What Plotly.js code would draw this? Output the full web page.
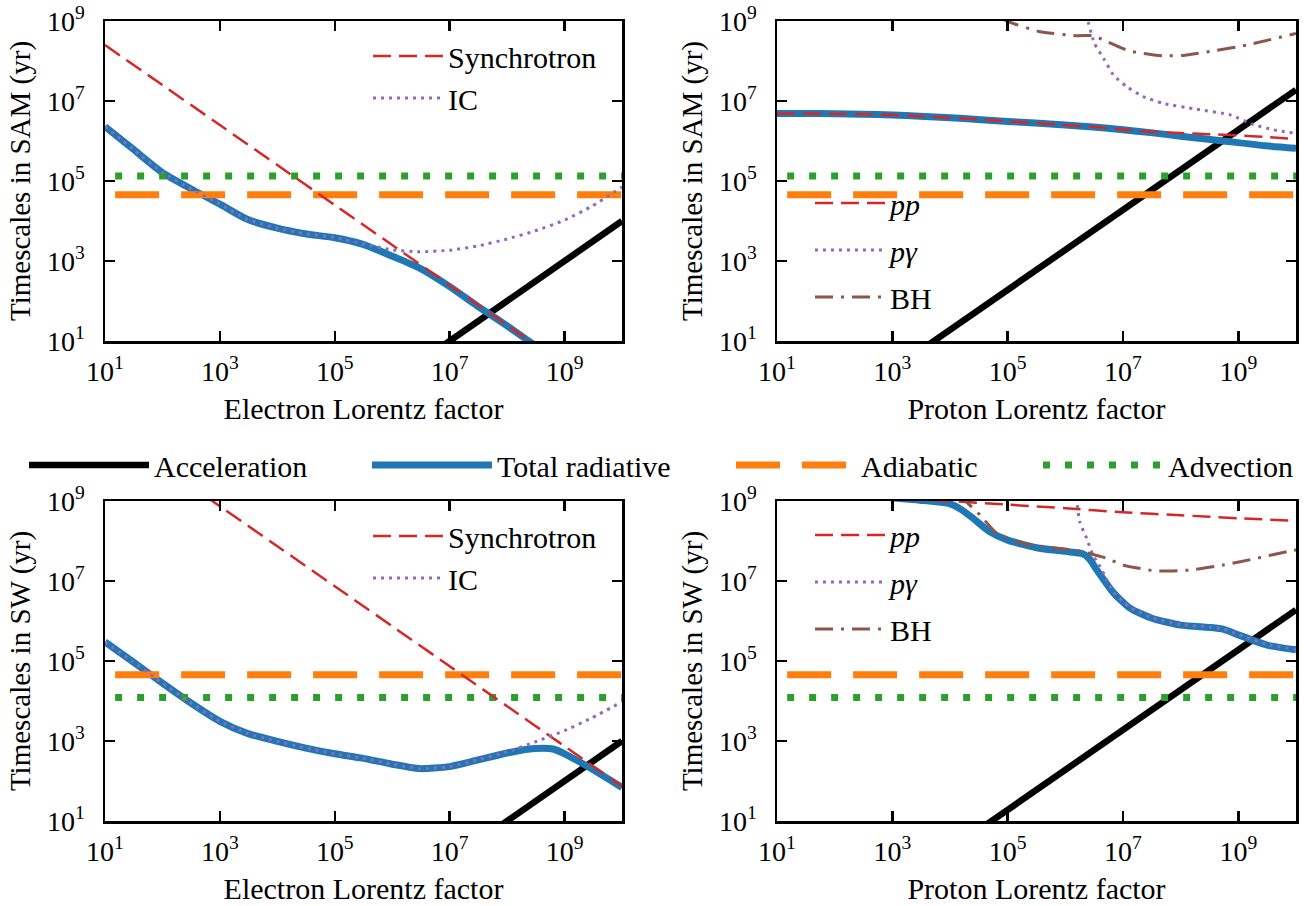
<!DOCTYPE html>
<html>
<head>
<meta charset="utf-8">
<script src="https://cdn.plot.ly/plotly-3.0.1.min.js"></script>
<style>html,body{margin:0;padding:0;background:#fff;}#chart{width:1313px;height:906px;}</style>
</head>
<body>
<div id="chart"></div>
<script>
// ---------- tick labels ----------
var tickVals = [1e1, 1e3, 1e5, 1e7, 1e9];
var tickText = ['10<sup>1</sup>', '10<sup>3</sup>', '10<sup>5</sup>', '10<sup>7</sup>', '10<sup>9</sup>'];

// ---------- shared horizontal levels (yr) ----------
var levelX = [15, 1e10];
var adiabaticSAM = [4.5e4, 4.5e4];
var advectionSAM = [1.33e5, 1.33e5];
var adiabaticSW = [4.5e4, 4.5e4];
var advectionSW = [1.23e4, 1.23e4];

// ---------- Electron, SAM (top left) ----------
var eSamAccX = [1e6, 1e7, 1e8, 1e9, 1e10];
var eSamAcc  = [1, 10, 100, 1e3, 1e4];
var eSamTotX = [1e1, 3e1, 1e2, 3e2, 1e3, 3e3, 1e4, 3e4, 1e5, 3e5, 1e6, 3e6, 1e7, 3e7, 1e8, 3e8];
var eSamTot  = [2.29e6, 6.46e5, 1.62e5, 6.6e4, 2.63e4, 1.1e4, 6.6e3, 4.79e3, 3.8e3, 2.63e3, 1.32e3, 661, 229, 75.9, 24, 7.9];
var eSamSynX = [1e1, 1e2, 1e3, 1e4, 1e5, 1e6, 1e7, 1e8, 1e9, 1e10];
var eSamSyn  = [2.5e8, 2.5e7, 2.5e6, 2.5e5, 2.5e4, 2.5e3, 2.5e2, 2.5e1, 2.5, 0.25];
var eSamICX  = [1e1, 3e1, 1e2, 3e2, 1e3, 3e3, 1e4, 3e4, 1e5, 3e5, 1e6, 3e6, 1e7, 3e7, 1e8, 3e8, 1e9, 3e9, 1e10];
var eSamIC   = [2.29e6, 6.5e5, 1.63e5, 6.6e4, 2.65e4, 1.1e4, 6.6e3, 4.8e3, 3.9e3, 2.7e3, 1.9e3, 1.7e3, 1.86e3, 2.35e3, 3.55e3, 5.6e3, 1.05e4, 2.35e4, 7.1e4];

// ---------- Proton, SAM (top right) ----------
var pSamAccX = [1e3, 1e4, 1e5, 1e6, 1e7, 1e8, 1e9, 1e10];
var pSamAcc  = [1.9, 19, 190, 1.9e3, 1.9e4, 1.9e5, 1.9e6, 1.9e7];
var pSamTotX = [1e1, 3e1, 1e2, 3e2, 1e3, 3e3, 1e4, 3e4, 1e5, 3e5, 1e6, 3e6, 1e7, 3e7, 1e8, 3e8, 1e9, 3e9, 1e10];
var pSamTot  = [4.9e6, 4.9e6, 4.79e6, 4.68e6, 4.47e6, 4.17e6, 3.8e6, 3.47e6, 3.09e6, 2.82e6, 2.51e6, 2.24e6, 1.91e6, 1.62e6, 1.32e6, 1.1e6, 9.1e5, 7.6e5, 6.6e5];
var pSamPPX  = [1e1, 3e1, 1e2, 3e2, 1e3, 3e3, 1e4, 3e4, 1e5, 3e5, 1e6, 3e6, 1e7, 3e7, 1e8, 3e8, 1e9, 3e9, 1e10];
var pSamPP   = [4.9e6, 4.9e6, 4.79e6, 4.68e6, 4.47e6, 4.17e6, 3.8e6, 3.47e6, 3.09e6, 2.82e6, 2.51e6, 2.26e6, 1.95e6, 1.7e6, 1.58e6, 1.48e6, 1.38e6, 1.26e6, 1.12e6];
var pSamPGX  = [2.29e6, 3.2e6, 4.6e6, 6.8e6, 1.15e7, 2.24e7, 5e7, 1.9e8, 7.2e8, 1.8e9, 4.1e9, 1e10];
var pSamPG   = [1.5e9, 2.75e8, 1.17e8, 4.5e7, 2.3e7, 1.29e7, 8.7e6, 6.2e6, 4.5e6, 2.6e6, 1.9e6, 1.55e6];
var pSamBHX  = [7.9e4, 1.1e5, 3.6e5, 1.6e6, 3.1e6, 4.6e6, 1.3e7, 5e7, 1.1e8, 3.7e8, 1.4e9, 1e10];
var pSamBH   = [1.15e9, 9.3e8, 5.4e8, 4.3e8, 4.3e8, 3.35e8, 1.78e8, 1.35e8, 1.38e8, 1.78e8, 2.5e8, 4.9e8];

// ---------- Electron, SW (bottom left) ----------
var eSwAccX = [1e7, 1e8, 1e9, 1e10];
var eSwAcc  = [1, 10, 100, 1e3];
var eSwTotX = [1e1, 3e1, 1e2, 3e2, 1e3, 3e3, 1e4, 3e4, 1e5, 3e5, 1e6, 3e6, 1e7, 3e7, 1e8, 3e8, 6.3e8, 1e9, 3e9, 1e10];
var eSwTot  = [3.0e5, 9.8e4, 2.8e4, 9.3e3, 3.1e3, 1.55e3, 980, 676, 479, 372, 263, 204, 229, 331, 501, 646, 631, 479, 200, 69];
var eSwSynX = [1e2, 1e3, 1e4, 1e5, 1e6, 1e7, 1e8, 1e9, 1e10];
var eSwSyn  = [7.4e9, 7.4e8, 7.4e7, 7.4e6, 7.4e5, 7.4e4, 7.4e3, 740, 74];
var eSwICX  = [1e1, 3e1, 1e2, 3e2, 1e3, 3e3, 1e4, 3e4, 1e5, 3e5, 1e6, 3e6, 1e7, 3e7, 1e8, 3e8, 1e9, 3e9, 1e10];
var eSwIC   = [3.0e5, 9.8e4, 2.8e4, 9.3e3, 3.1e3, 1.55e3, 980, 676, 479, 372, 263, 204, 229, 335, 537, 933, 1.82e3, 3.8e3, 9.55e3];

// ---------- Proton, SW (bottom right) ----------
var pSwAccX = [1e4, 1e5, 1e6, 1e7, 1e8, 1e9, 1e10];
var pSwAcc  = [1.9, 19, 190, 1.9e3, 1.9e4, 1.9e5, 1.9e6];
var pSwTotX = [3e2, 1e3, 3e3, 1e4, 1.6e4, 2.5e4, 4.9e4, 1e5, 3.16e5, 1e6, 2e6, 2.63e6, 3.5e6, 6.8e6, 1.32e7, 3.16e7, 1e8, 3.16e8, 5.6e8, 1e9, 3.16e9, 1e10];
var pSwTot  = [1.6e9, 1.2e9, 1.05e9, 8.5e8, 6e8, 3.7e8, 1.7e8, 1.05e8, 6.8e7, 5.5e7, 4.8e7, 3.55e7, 1.9e7, 5.1e6, 2.1e6, 1.17e6, 7.9e5, 6.9e5, 6.2e5, 4.5e5, 2.5e5, 1.9e5];
var pSwPPX  = [1e1, 1e2, 1e3, 1e4, 1e5, 1e6, 1e7, 1e8, 1e9, 1e10];
var pSwPP   = [1.26e9, 1.23e9, 1.15e9, 1e9, 8.1e8, 6.6e8, 5.2e8, 4.4e8, 3.7e8, 3.2e8];
var pSwPGX  = [1.5e6, 1.78e6, 2.34e6, 3e6, 4e6, 5.2e6, 6.8e6, 1.32e7, 3.16e7, 1e8, 3.16e8, 5.6e8, 1e9, 3.16e9, 1e10];
var pSwPG   = [2e9, 3e8, 1.17e8, 4.5e7, 2.3e7, 1.1e7, 5.3e6, 2.2e6, 1.2e6, 8.1e5, 7.1e5, 6.3e5, 4.6e5, 2.6e5, 1.95e5];
var pSwBHX  = [1.4e4, 2.2e4, 3.3e4, 6.5e4, 1.86e5, 7.1e5, 1.8e6, 5.2e6, 1e7, 3.8e7, 1.45e8, 5.5e8, 2.1e9, 6.9e9, 1e10];
var pSwBH   = [1.4e9, 7.9e8, 4.5e8, 1.55e8, 8.7e7, 6.6e7, 5.6e7, 3.7e7, 2.5e7, 1.78e7, 1.88e7, 2.5e7, 3.7e7, 5.4e7, 6e7];

// ---------- styling ----------
var FONT = 'Liberation Serif, Times New Roman, serif';
var C = {acc:'#000000', tot:'#1f77b4', adi:'#ff7f0e', adv:'#2ca02c', red:'#d62728', pur:'#9467bd', bro:'#8c564b'};
var ST = {
  acc: {color:C.acc, width:6.5},
  tot: {color:C.tot, width:7, shape:'spline', smoothing:0.6},
  adi: {color:C.adi, width:7, dash:'44px,22px'},
  adv: {color:C.adv, width:7, dash:'7px,15px'},
  red: {color:C.red, width:2.5, dash:'18px,8px', shape:'spline', smoothing:0.5},
  pur: {color:C.pur, width:3, dash:'3px,5px', shape:'spline', smoothing:0.5},
  bro: {color:C.bro, width:3, dash:'18px,8px,3px,8px', shape:'spline', smoothing:0.5}
};
var gid = 0;
function tr(x, y, st, ax, name, leg) {
  gid += 1;
  return {
    type:'scatter', mode:'lines', x:x, y:y, xaxis:'x'+ax, yaxis:'y'+ax,
    line: Object.assign({}, st), name: name || '', showlegend: !!leg,
    legend: leg || 'legend', legendgroup: 'g' + gid, hoverinfo:'skip'
  };
}
var data = [
  // top left
  tr(eSamAccX, eSamAcc, ST.acc, '', 'Acceleration', 'legend'),
  tr(eSamTotX, eSamTot, ST.tot, '', 'Total radiative', 'legend2'),
  tr(levelX, adiabaticSAM, ST.adi, '', 'Adiabatic', 'legend3'),
  tr(levelX, advectionSAM, ST.adv, '', 'Advection', 'legend4'),
  tr(eSamSynX, eSamSyn, ST.red, '', 'Synchrotron', 'legend5'),
  tr(eSamICX, eSamIC, ST.pur, '', 'IC', 'legend5'),
  // top right
  tr(pSamAccX, pSamAcc, ST.acc, '2'),
  tr(pSamTotX, pSamTot, ST.tot, '2'),
  tr(levelX, adiabaticSAM, ST.adi, '2'),
  tr(levelX, advectionSAM, ST.adv, '2'),
  tr(pSamPPX, pSamPP, ST.red, '2', '<i>pp</i>', 'legend6'),
  tr(pSamPGX, pSamPG, ST.pur, '2', '<i>pγ</i>', 'legend6'),
  tr(pSamBHX, pSamBH, ST.bro, '2', 'BH', 'legend6'),
  // bottom left
  tr(eSwAccX, eSwAcc, ST.acc, '3'),
  tr(eSwTotX, eSwTot, ST.tot, '3'),
  tr(levelX, adiabaticSW, ST.adi, '3'),
  tr(levelX, advectionSW, ST.adv, '3'),
  tr(eSwSynX, eSwSyn, ST.red, '3', 'Synchrotron', 'legend7'),
  tr(eSwICX, eSwIC, ST.pur, '3', 'IC', 'legend7'),
  // bottom right
  tr(pSwAccX, pSwAcc, ST.acc, '4'),
  tr(pSwTotX, pSwTot, ST.tot, '4'),
  tr(levelX, adiabaticSW, ST.adi, '4'),
  tr(levelX, advectionSW, ST.adv, '4'),
  tr(pSwPPX, pSwPP, ST.red, '4', '<i>pp</i>', 'legend8'),
  tr(pSwPGX, pSwPG, ST.pur, '4', '<i>pγ</i>', 'legend8'),
  tr(pSwBHX, pSwBH, ST.bro, '4', 'BH', 'legend8')
];

var W = 1313, H = 906;
function px(v){ return v / W; }
function py(v){ return 1 - v / H; }

function xax(dom, title, anchor) {
  return {
    type:'log', range:[1, 10], domain:dom, anchor:anchor,
    tickvals:tickVals, ticktext:tickText,
    ticks:'inside', ticklen:10, tickwidth:2.5, tickcolor:'#000',
    showline:true, linewidth:2.5, linecolor:'#000', mirror:'ticks',
    showgrid:false, zeroline:false, automargin:false,
    ticklabelstandoff:4,
    tickfont:{family:FONT, size:28, color:'#000'},
    title:{text:title, font:{family:FONT, size:30, color:'#000'}, standoff:12}
  };
}
function yax(dom, title, anchor) {
  return {
    type:'log', range:[1, 9], domain:dom, anchor:anchor,
    tickvals:tickVals, ticktext:tickText,
    ticks:'inside', ticklen:10, tickwidth:2.5, tickcolor:'#000',
    showline:true, linewidth:2.5, linecolor:'#000', mirror:'ticks',
    showgrid:false, zeroline:false, automargin:false,
    ticklabelstandoff:12,
    tickfont:{family:FONT, size:28, color:'#000'},
    title:{text:title, font:{family:FONT, size:29, color:'#000'}, standoff:8}
  };
}
var xL = [px(105), px(622)], xR = [px(777), px(1296)];
var yT = [py(341), py(21)], yB = [py(821), py(501)];

function leg(x, y, iw, gap) {
  return {x:px(x), y:py(y), xanchor:'left', yanchor:'top', bgcolor:'rgba(0,0,0,0)',
          borderwidth:0, itemwidth:iw, font:{family:FONT, size:30, color:'#000'},
          orientation:'v', itemclick:false, itemdoubleclick:false,
          traceorder: gap ? 'grouped' : 'normal', tracegroupgap: gap};
}

var layout = {
  width:W, height:H, margin:{l:0, r:0, t:0, b:0},
  paper_bgcolor:'#fff', plot_bgcolor:'#fff', showlegend:true,
  xaxis: xax(xL, 'Electron Lorentz factor', 'y'),
  yaxis: yax(yT, 'Timescales in SAM (yr)', 'x'),
  xaxis2: xax(xR, 'Proton Lorentz factor', 'y2'),
  yaxis2: yax(yT, 'Timescales in SAM (yr)', 'x2'),
  xaxis3: xax(xL, 'Electron Lorentz factor', 'y3'),
  yaxis3: yax(yB, 'Timescales in SW (yr)', 'x3'),
  xaxis4: xax(xR, 'Proton Lorentz factor', 'y4'),
  yaxis4: yax(yB, 'Timescales in SW (yr)', 'x4'),
  legend:  leg(24, 439, 120, 0),
  legend2: leg(367, 439, 120, 0),
  legend3: leg(731, 439, 120, 0),
  legend4: leg(1038, 439, 120, 0),
  legend5: leg(368, 30, 70, 0),
  legend6: leg(810, 177, 70, 5),
  legend7: leg(368, 510, 70, 0),
  legend8: leg(810, 509, 70, 5)
};

Plotly.newPlot('chart', data, layout, {staticPlot:true, displayModeBar:false});
</script>
</body>
</html>
